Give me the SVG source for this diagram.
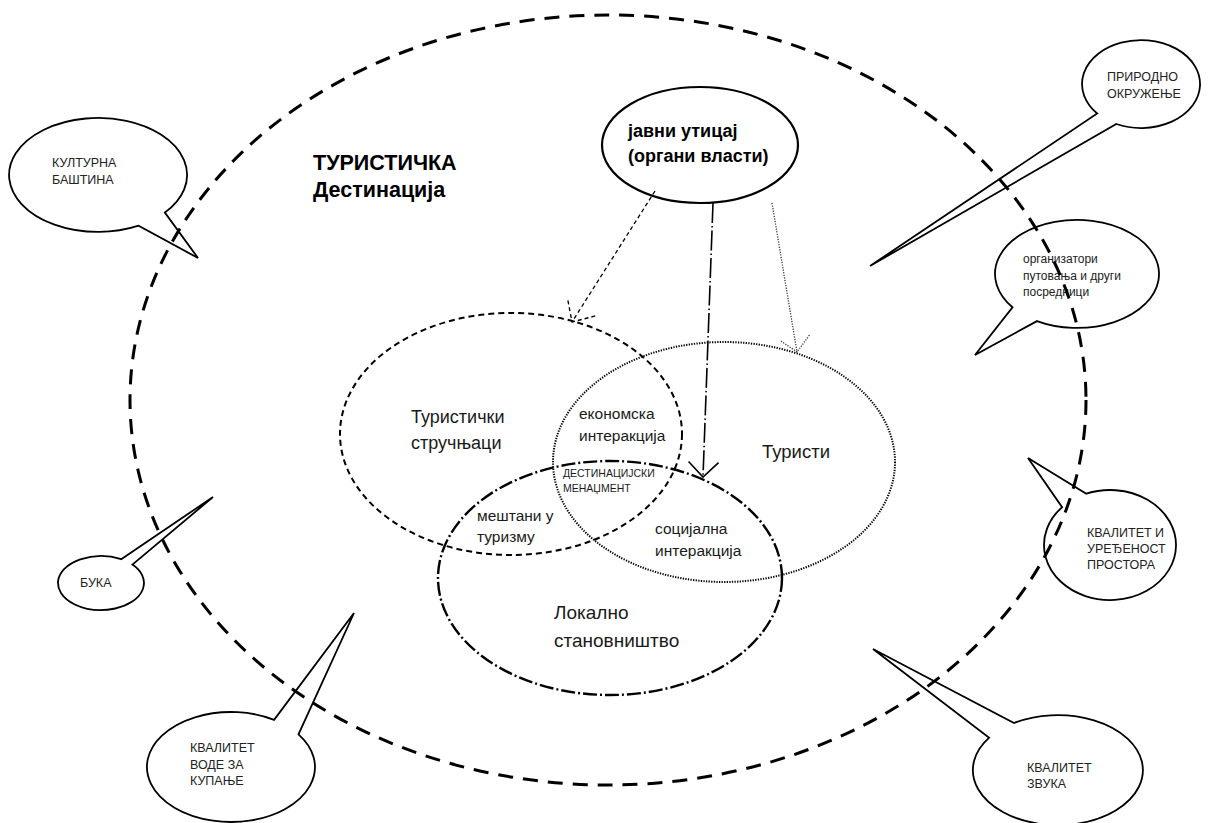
<svg xmlns="http://www.w3.org/2000/svg" width="1211" height="823" viewBox="0 0 1211 823">
  <style>
    .lbl { font-family: "Liberation Sans", Arial, sans-serif; fill: #1a1a1a; }
    .bold { font-weight: bold; fill: #000; }
    .bubble { fill: #fff; stroke: #000; stroke-width: 1.8; stroke-linejoin: miter; }
    .btxt { font-family: "Liberation Sans", Arial, sans-serif; font-size: 12.5px; fill: #222; }
    .dest { fill: none; stroke: #000; stroke-width: 3; stroke-dasharray: 15 10; }
    .prof { fill: none; stroke: #000; stroke-width: 2; stroke-dasharray: 6 4; }
    .tour { fill: none; stroke: #000; stroke-width: 2; stroke-dasharray: 1.3 1.3; }
    .local { fill: none; stroke: #000; stroke-width: 2.4; stroke-dasharray: 14 3 2 3; }
    .auth { fill: #fff; stroke: #000; stroke-width: 2.2; }
    .c-dash { fill: none; stroke: #000; stroke-width: 1.3; stroke-dasharray: 4 3; }
    .c-dashdot { fill: none; stroke: #000; stroke-width: 1.6; stroke-dasharray: 20 3 1.5 3; }
    .c-dot { fill: none; stroke: #333; stroke-width: 1.3; stroke-dasharray: 1.2 1.4; }
  </style>
  <defs>
    <marker id="head-dash" markerUnits="userSpaceOnUse" markerWidth="40" markerHeight="40" refX="0" refY="0" orient="auto" overflow="visible">
      <path d="M -17.5,-16.4 L 0,0 L -17.5,16.4" fill="none" stroke="#000" stroke-width="1.3" stroke-dasharray="4 3"/>
    </marker>
    <marker id="head-dashdot" markerUnits="userSpaceOnUse" markerWidth="40" markerHeight="40" refX="0" refY="0" orient="auto" overflow="visible">
      <path d="M -15,-15 L 0,0 L -15,15" fill="none" stroke="#000" stroke-width="1.6"/>
    </marker>
    <marker id="head-dot" markerUnits="userSpaceOnUse" markerWidth="40" markerHeight="40" refX="0" refY="0" orient="auto" overflow="visible">
      <path d="M -14.5,-15 L 0,0 L -14.5,15" fill="none" stroke="#333" stroke-width="1.3" stroke-dasharray="1.2 1.4"/>
    </marker>
  </defs>

  <rect width="1211" height="823" fill="#fff"/>

  <!-- speech bubbles around the destination -->
  <g id="bubble-heritage">
    <path class="bubble" d="M 164.9,212.6 A 89 57 0 1 0 138.6,225.7 L 198,258 Z"/>
    <text class="btxt" x="52" y="167">КУЛТУРНА</text>
    <text class="btxt" x="52" y="184">БАШТИНА</text>
  </g>
  <g id="bubble-nature">
    <path class="bubble" d="M 1116.3,124.0 A 59 44 0 1 0 1097.2,113.5 L 870,266 Z"/>
    <text class="btxt" x="1107" y="81">ПРИРОДНО</text>
    <text class="btxt" x="1107" y="98">ОКРУЖЕЊЕ</text>
  </g>
  <g id="bubble-operators">
    <path class="bubble" d="M 1037.0,321.1 A 82 54 0 1 0 1012.5,307.3 L 975,355 Z"/>
    <text class="btxt" x="1023" y="263" style="font-size:12px">организатори</text>
    <text class="btxt" x="1023" y="280" style="font-size:12px">путовања и други</text>
    <text class="btxt" x="1023" y="296" style="font-size:12px">посредници</text>
  </g>
  <g id="bubble-space">
    <path class="bubble" d="M 1062.1,507.2 A 66 55 0 1 0 1086.3,493.7 L 1028,458 Z"/>
    <text class="btxt" x="1087" y="537">КВАЛИТЕТ И</text>
    <text class="btxt" x="1087" y="553">УРЕЂЕНОСТ</text>
    <text class="btxt" x="1087" y="569">ПРОСТОРА</text>
  </g>
  <g id="bubble-sound">
    <path class="bubble" d="M 989.2,737.7 A 85 55 0 1 0 1014,723 L 873,649 Z"/>
    <text class="btxt" x="1027" y="772">КВАЛИТЕТ</text>
    <text class="btxt" x="1027" y="788">ЗВУКА</text>
  </g>
  <g id="bubble-noise">
    <path class="bubble" d="M 121.2,559.2 A 43 27 0 1 0 132.4,564.6 L 213,497 Z"/>
    <text class="btxt" x="80" y="587">БУКА</text>
  </g>
  <g id="bubble-water">
    <path class="bubble" d="M 274.1,719.8 A 84 55 0 1 0 298.5,734.3 L 354,613 Z"/>
    <text class="btxt" x="190" y="752">КВАЛИТЕТ</text>
    <text class="btxt" x="190" y="769">ВОДЕ ЗА</text>
    <text class="btxt" x="190" y="785">КУПАЊЕ</text>
  </g>

  <!-- tourist destination boundary -->
  <g id="destination">
    <ellipse class="dest" cx="608" cy="400" rx="478" ry="385"/>
    <text class="lbl bold" x="313" y="170" font-size="21.5">ТУРИСТИЧКА</text>
    <text class="lbl bold" x="313" y="197" font-size="21.5">Дестинација</text>
  </g>

  <!-- stakeholder sets -->
  <g id="professionals">
    <ellipse class="prof" cx="511" cy="434" rx="171" ry="121"/>
    <text class="lbl" x="411" y="423" font-size="18">Туристички</text>
    <text class="lbl" x="411" y="449" font-size="18">стручњаци</text>
  </g>
  <g id="tourists">
    <ellipse class="tour" cx="724" cy="462" rx="171" ry="120"/>
    <text class="lbl" x="762" y="458" font-size="18.5">Туристи</text>
  </g>
  <g id="residents">
    <ellipse class="local" cx="610" cy="578" rx="172" ry="117"/>
    <text class="lbl" x="554" y="619" font-size="19">Локално</text>
    <text class="lbl" x="554" y="647" font-size="19">становништво</text>
  </g>

  <!-- overlap labels -->
  <g id="economic-interaction">
    <text class="lbl" x="579" y="419" font-size="15.5">економска</text>
    <text class="lbl" x="579" y="441" font-size="15.5">интеракција</text>
  </g>
  <g id="destination-management">
    <text class="lbl" x="563" y="477" font-size="10.5">ДЕСТИНАЦИЈСКИ</text>
    <text class="lbl" x="563" y="492" font-size="10.5">МЕНАЏМЕНТ</text>
  </g>
  <g id="locals-in-tourism">
    <text class="lbl" x="477" y="521" font-size="15.5">мештани у</text>
    <text class="lbl" x="477" y="542" font-size="15.5">туризму</text>
  </g>
  <g id="social-interaction">
    <text class="lbl" x="655" y="534" font-size="15.5">социјална</text>
    <text class="lbl" x="655" y="556" font-size="15.5">интеракција</text>
  </g>

  <!-- public authorities -->
  <g id="authorities">
    <ellipse class="auth" cx="700" cy="145" rx="98" ry="58"/>
    <text class="lbl bold" x="628" y="137" font-size="18">јавни утицај</text>
    <text class="lbl bold" x="628" y="162" font-size="18">(органи власти)</text>
  </g>

  <!-- influence arrows -->
  <g id="connectors">
    <line class="c-dash" x1="655" y1="191" x2="572" y2="322" marker-end="url(#head-dash)"/>
    <line class="c-dashdot" x1="713" y1="203" x2="703" y2="477" marker-end="url(#head-dashdot)"/>
    <line class="c-dot" x1="772" y1="203" x2="797" y2="352" marker-end="url(#head-dot)"/>
  </g>
</svg>
